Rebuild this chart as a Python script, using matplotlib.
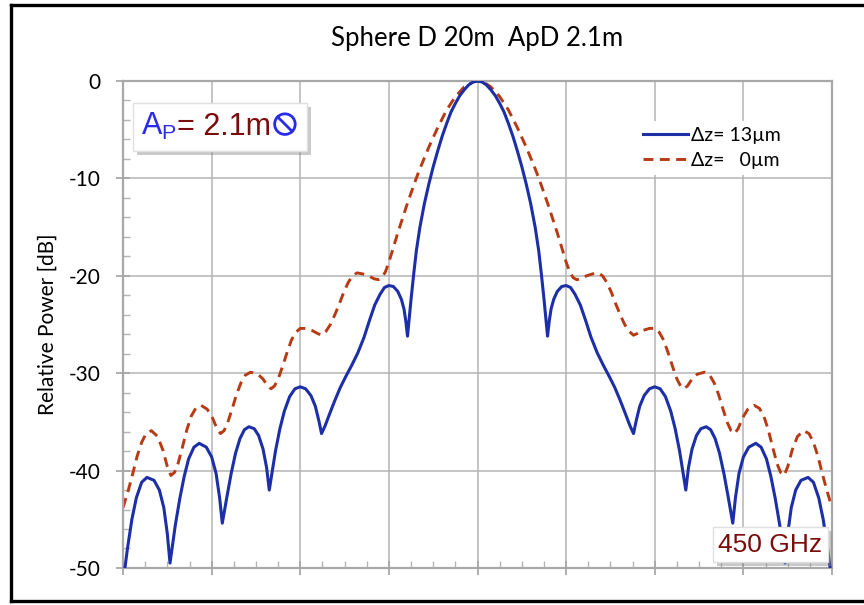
import matplotlib
matplotlib.use("Agg")
import matplotlib.pyplot as plt
import matplotlib.patheffects as pe
from matplotlib.offsetbox import AnchoredOffsetbox, HPacker, TextArea, DrawingArea
from matplotlib.lines import Line2D
from matplotlib.patches import Rectangle, Circle

plt.rcParams["axes.unicode_minus"] = False

# beam cuts (x in grid units, y in dB)
x_13um = [-4.00, -3.95, -3.90, -3.85, -3.79, -3.73, -3.65, -3.59, -3.54, -3.50, -3.47, -3.41,
          -3.36, -3.31, -3.26, -3.20, -3.14, -3.06, -3.00, -2.95, -2.91, -2.88, -2.83, -2.78,
          -2.73, -2.68, -2.63, -2.58, -2.52, -2.47, -2.42, -2.38, -2.35, -2.32, -2.28, -2.23,
          -2.18, -2.12, -2.06, -2.00, -1.94, -1.88, -1.83, -1.79, -1.76, -1.72, -1.67, -1.61,
          -1.55, -1.49, -1.42, -1.35, -1.28, -1.22, -1.16, -1.10, -1.05, -1.00, -0.95, -0.90,
          -0.86, -0.83, -0.81, -0.79, -0.77, -0.75, -0.72, -0.69, -0.65, -0.60, -0.55, -0.50,
          -0.45, -0.40, -0.35, -0.30, -0.25, -0.20, -0.15, -0.10, -0.05,
          0.00, 0.05, 0.10, 0.15, 0.20, 0.25, 0.30, 0.35, 0.40, 0.45, 0.50, 0.55, 0.60, 0.65,
          0.69, 0.72, 0.75, 0.77, 0.79, 0.81, 0.83, 0.86, 0.90, 0.95, 1.00, 1.05, 1.10, 1.16,
          1.22, 1.28, 1.35, 1.42, 1.49, 1.55, 1.61, 1.67, 1.72, 1.76, 1.79, 1.83, 1.88, 1.94,
          2.00, 2.06, 2.12, 2.18, 2.23, 2.28, 2.32, 2.35, 2.38, 2.42, 2.47, 2.52, 2.58, 2.63,
          2.68, 2.73, 2.78, 2.83, 2.88, 2.91, 2.95, 3.00, 3.06, 3.14, 3.20, 3.26, 3.31, 3.36,
          3.41, 3.47, 3.50, 3.54, 3.59, 3.65, 3.73, 3.79, 3.85, 3.90, 3.95, 4.00]
p_13um = [-51.5, -48.0, -45.0, -42.8, -41.2, -40.7, -41.0, -42.0, -43.8, -46.5, -49.5, -45.6,
          -42.9, -40.6, -38.8, -37.6, -37.2, -37.6, -38.6, -40.3, -42.8, -45.4, -42.8, -40.3,
          -38.2, -36.7, -35.8, -35.5, -35.7, -36.4, -37.8, -39.7, -42.0, -40.3, -38.0, -35.7,
          -33.9, -32.4, -31.6, -31.4, -31.6, -32.3, -33.4, -34.9, -36.2, -35.4, -34.2, -32.8,
          -31.5, -30.4, -29.2, -27.9, -26.3, -24.6, -23.0, -21.9, -21.2, -21.0, -21.1, -21.6,
          -22.4, -23.4, -24.6, -26.2, -24.3, -22.4, -19.8, -17.4, -15.0, -12.6, -10.6, -8.8,
          -7.2, -5.7, -4.4, -3.2, -2.3, -1.5, -0.9, -0.4, -0.1,
          0.0, -0.1, -0.4, -0.9, -1.5, -2.3, -3.2, -4.4, -5.7, -7.2, -8.8, -10.6, -12.6, -15.0,
          -17.4, -19.8, -22.4, -24.3, -26.2, -24.6, -23.4, -22.4, -21.6, -21.1, -21.0, -21.2, -21.9, -23.0,
          -24.6, -26.3, -27.9, -29.2, -30.4, -31.5, -32.8, -34.2, -35.4, -36.2, -34.9, -33.4, -32.3, -31.6,
          -31.4, -31.6, -32.4, -33.9, -35.7, -38.0, -40.3, -42.0, -39.7, -37.8, -36.4, -35.7, -35.5, -35.8,
          -36.7, -38.2, -40.3, -42.8, -45.4, -42.8, -40.3, -38.6, -37.6, -37.2, -37.6, -38.8, -40.6, -42.9,
          -45.6, -49.5, -46.5, -43.8, -42.0, -41.0, -40.7, -41.2, -42.8, -45.0, -48.0, -51.5]

x_0um = [-4.00, -3.94, -3.89, -3.84, -3.79, -3.74, -3.68, -3.61, -3.55, -3.50, -3.46, -3.42,
         -3.38, -3.33, -3.28, -3.23, -3.18, -3.12, -3.05, -2.99, -2.94, -2.90, -2.86, -2.82,
         -2.77, -2.72, -2.67, -2.62, -2.56, -2.48, -2.42, -2.37, -2.33, -2.29, -2.25, -2.20,
         -2.15, -2.10, -2.05, -2.00, -1.94, -1.87, -1.81, -1.76, -1.71, -1.66, -1.61, -1.56,
         -1.51, -1.46, -1.41, -1.36, -1.30, -1.23, -1.17, -1.12, -1.08, -1.04, -1.00, -0.95,
         -0.90, -0.85, -0.80, -0.75, -0.70, -0.65, -0.60, -0.55, -0.50, -0.45, -0.40, -0.35,
         -0.30, -0.25, -0.20, -0.15, -0.10, -0.05,
         0.00, 0.05, 0.10, 0.15, 0.20, 0.25, 0.30, 0.35, 0.40, 0.45, 0.50, 0.55, 0.60, 0.65,
         0.70, 0.75, 0.80, 0.85, 0.90, 0.95, 1.00, 1.04, 1.08, 1.12, 1.17, 1.23, 1.30, 1.36,
         1.41, 1.46, 1.51, 1.56, 1.61, 1.66, 1.71, 1.76, 1.81, 1.87, 1.94, 2.00, 2.05, 2.10,
         2.15, 2.20, 2.25, 2.29, 2.33, 2.37, 2.42, 2.48, 2.56, 2.62, 2.67, 2.72, 2.77, 2.82,
         2.86, 2.90, 2.94, 2.99, 3.05, 3.12, 3.18, 3.23, 3.28, 3.33, 3.38, 3.42, 3.46, 3.50,
         3.55, 3.61, 3.68, 3.74, 3.79, 3.84, 3.89, 3.94, 4.00]
p_0um = [-43.8, -42.0, -40.3, -38.5, -37.1, -36.2, -35.9, -36.5, -37.9, -39.6, -40.5, -40.2,
         -39.3, -37.6, -35.8, -34.4, -33.6, -33.3, -33.7, -34.6, -35.7, -36.2, -35.9, -35.1,
         -33.7, -32.2, -31.0, -30.2, -29.9, -30.1, -30.6, -31.3, -31.6, -31.3, -30.6, -29.3,
         -27.9, -26.6, -25.8, -25.4, -25.4, -25.6, -25.9, -26.1, -25.7, -25.0, -24.0, -22.9,
         -21.7, -20.7, -20.0, -19.7, -19.8, -20.0, -20.3, -20.4, -20.2, -19.6, -18.6, -17.1,
         -15.6, -14.2, -12.8, -11.5, -10.2, -9.0, -7.9, -6.8, -5.8, -4.8, -3.9, -3.0,
         -2.3, -1.6, -1.1, -0.6, -0.3, -0.1,
         0.0, -0.1, -0.3, -0.6, -1.1, -1.6, -2.3, -3.0, -3.9, -4.8, -5.8, -6.8, -7.9, -9.0,
         -10.2, -11.5, -12.8, -14.2, -15.6, -17.1, -18.6, -19.6, -20.2, -20.4, -20.3, -20.0, -19.8, -19.7,
         -20.0, -20.7, -21.7, -22.9, -24.0, -25.0, -25.7, -26.1, -25.9, -25.6, -25.4, -25.4, -25.8, -26.6,
         -27.9, -29.3, -30.6, -31.3, -31.6, -31.3, -30.6, -30.1, -29.9, -30.2, -31.0, -32.2, -33.7, -35.1,
         -35.9, -36.2, -35.7, -34.6, -33.7, -33.3, -33.6, -34.4, -35.8, -37.6, -39.3, -40.2, -40.5, -39.6,
         -37.9, -36.5, -35.9, -36.2, -37.1, -38.5, -40.3, -42.0, -43.8]

x_ticks = [-4, -3, -2, -1, 0, 1, 2, 3, 4]
y_ticks = [0, -10, -20, -30, -40, -50]

BLUE = "#1c2fa6"
RED = "#b83a14"
GRIDC = "#b4b4b4"
UI = "Lato"
SYM_BLUE = "#2a2aee"
DARKRED = "#7a0c0c"

fig = plt.figure(figsize=(8.64, 6.05), dpi=100)
ax = fig.add_axes([0.1424, 0.0612, 0.8206, 0.8049])

ax.plot(x_13um, p_13um, color=BLUE, lw=2.2, label="\u0394z= 13\u00b5m", zorder=3,
        solid_joinstyle="round")
ax.plot(x_0um, p_0um, color=RED, lw=2.1, ls=(0, (3.4, 2.2)), label="\u0394z=   0\u00b5m", zorder=2)

ax.set_xlim(-4, 4)
ax.set_ylim(-50, 0)
ax.set_xticks(x_ticks)
ax.set_yticks(y_ticks)
ax.set_xticks([t / 4 for t in range(-16, 17)], minor=True)
ax.set_yticks(list(range(-50, 1, 2)), minor=True)
ax.grid(True, which="major", color=GRIDC, lw=1.1)
for s in ax.spines.values():
    s.set_color("#a8a8a8")
    s.set_linewidth(1.6)
ax.tick_params(which="major", direction="inout", length=10, width=1.3, color="#a8a8a8")
ax.tick_params(which="minor", direction="in", length=5, width=1.0, color="#b4b4b4")
ax.tick_params(axis="y", labelsize=15, pad=11)
ax.tick_params(axis="x", labelsize=15, pad=17)
for lab in ax.get_yticklabels() + ax.get_xticklabels():
    lab.set_fontfamily(UI)

ax.set_ylabel("Relative Power [dB]", fontsize=15, family=UI, labelpad=8)
ax.set_title("Sphere D 20m  ApD 2.1m", fontsize=18.5, family=UI, pad=25)

leg = ax.legend(loc="upper left", bbox_to_anchor=(0.712, 0.937), frameon=True,
                facecolor="white", edgecolor="none", framealpha=1, fontsize=14,
                handlelength=2.3, handletextpad=0.15, labelspacing=0.4, borderpad=0.3)
for t in leg.get_texts():
    t.set_fontfamily(UI)

# aperture label box; the circled backslash sign has no glyph in the installed fonts
sym = DrawingArea(20, 16, 0, 0)
sym.add_artist(Circle((10, 8), 7.4, facecolor="none", edgecolor=SYM_BLUE, lw=2.0))
sym.add_artist(Line2D([4.8, 15.2], [13.2, 2.8], color=SYM_BLUE, lw=2.0))
ap = HPacker(children=[
    TextArea(r"$\mathregular{A_P}$", textprops=dict(color=SYM_BLUE, fontsize=22, family="Liberation Sans")),
    TextArea("= 2.1m", textprops=dict(color=DARKRED, fontsize=22, family="Liberation Sans")),
    sym,
], align="baseline", pad=0, sep=0)
box1 = AnchoredOffsetbox(loc="upper left", child=ap, bbox_to_anchor=(0.014, 0.955),
                         bbox_transform=ax.transAxes, borderpad=0, pad=0.6, frameon=True)
box1.patch.set_edgecolor("#e0e0e0")
box1.patch.set_facecolor("white")
box1.patch.set_path_effects([pe.withSimplePatchShadow(offset=(3, -3), shadow_rgbFace="#888888", alpha=0.45)])
box1.set_zorder(5)
ax.add_artist(box1)

freq = TextArea("450 GHz", textprops=dict(color=DARKRED, fontsize=19, family="Liberation Sans"))
box2 = AnchoredOffsetbox(loc="lower right", child=freq, bbox_to_anchor=(0.994, 0.012),
                         bbox_transform=ax.transAxes, borderpad=0, pad=0.4, frameon=True)
box2.patch.set_edgecolor("#e0e0e0")
box2.patch.set_facecolor("white")
box2.patch.set_path_effects([pe.withSimplePatchShadow(offset=(3, -3), shadow_rgbFace="#888888", alpha=0.45)])
box2.set_zorder(5)
ax.add_artist(box2)

# screenshot frame: white strip at the bottom hides most of the x labels
fig.add_artist(Rectangle((0, 0), 1, 5.5 / 605, transform=fig.transFigure,
                         facecolor="white", edgecolor="none", zorder=10))
for xs, ys in [([11 / 864, 1], [1 - 5 / 605, 1 - 5 / 605]),
               ([11 / 864, 11 / 864], [1 - 5 / 605, 1 - 601 / 605]),
               ([11 / 864, 1], [1 - 601 / 605, 1 - 601 / 605])]:
    fig.add_artist(Line2D(xs, ys, transform=fig.transFigure, color="black", lw=2.4, zorder=11))

fig.savefig("out.png", dpi=100)
